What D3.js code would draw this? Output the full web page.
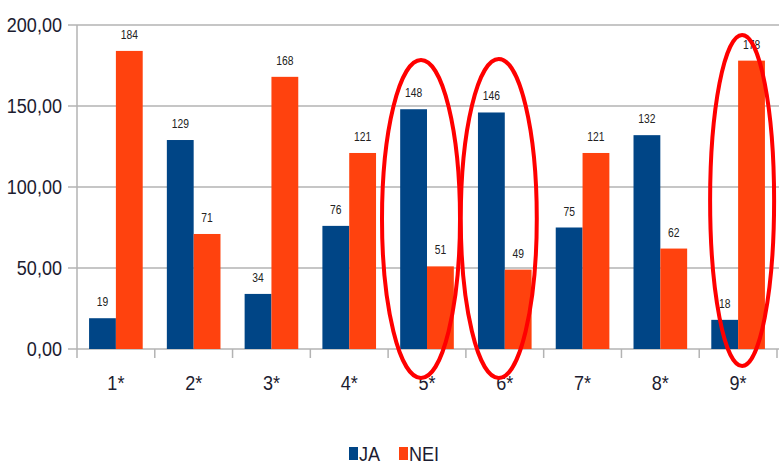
<!DOCTYPE html>
<html>
<head>
<meta charset="utf-8">
<script src="https://cdn.jsdelivr.net/npm/d3@7"></script>
<style>
    body { margin: 0; background: #fff; }
    svg { display: block; }
    text { font-family: "Liberation Sans", Arial, sans-serif; fill: #1c1c30; }
    .tick-y, .tick-x, .legend { font-size: 21px; }
    .label { font-size: 12px; fill: #222; }
</style>
</head>
<body>
<svg id="chart" width="779" height="465"></svg>
<script>
const categories = ["1*", "2*", "3*", "4*", "5*", "6*", "7*", "8*", "9*"];
const seriesNames = ["JA", "NEI"];
const jaValues = [19, 129, 34, 76, 148, 146, 75, 132, 18];
const neiValues = [184, 71, 168, 121, 51, 49, 121, 62, 178];
const yTicks = [0, 50, 100, 150, 200];
const circled = ["5*", "6*", "9*"];

const colors = { JA: "#004586", NEI: "#ff420e" };

const svg = d3.select("#chart"),
    width = 779,
    height = 465,
    margin = { top: 25, right: 2, bottom: 116, left: 77 };

// the source chart uses a condensed face; squeeze horizontally
const squeeze = 0.86;
const narrow = (sel, xf, yf) => sel.attr("transform", (d, i) => `translate(${xf(d, i)},${yf(d, i)}) scale(${squeeze},1)`);

const x = d3.scaleBand()
    .domain(categories)
    .range([margin.left, width - margin.right]);

const inner = d3.scaleBand()
    .domain(seriesNames)
    .range([0, x.bandwidth()])
    .paddingOuter(0.45)
    .paddingInner(0);

const y = d3.scaleLinear()
    .domain([0, 200])
    .range([height - margin.bottom, margin.top]);

const rows = categories.map((c, i) => ({ cat: c, JA: jaValues[i], NEI: neiValues[i] }));

// grid + y ticks
svg.append("g")
    .selectAll("line")
    .data(yTicks)
    .join("line")
    .attr("x1", margin.left - 9)
    .attr("x2", width)
    .attr("y1", d => y(d))
    .attr("y2", d => y(d))
    .attr("stroke", "#b3b3b3")
    .attr("stroke-width", 1.5);

svg.append("g")
    .selectAll("text")
    .data(yTicks)
    .join("text")
    .attr("class", "tick-y")
    .attr("dy", "0.35em")
    .attr("text-anchor", "end")
    .text(d => d3.format(".2f")(d).replace(".", ","))
    .call(narrow, () => margin.left - 15, d => y(d));

// vertical axis line
svg.append("line")
    .attr("x1", margin.left).attr("x2", margin.left)
    .attr("y1", y(200)).attr("y2", y(0) + 9)
    .attr("stroke", "#b3b3b3")
    .attr("stroke-width", 1.5);

// x ticks at band boundaries
svg.append("g")
    .selectAll("line")
    .data(categories)
    .join("line")
    .attr("x1", d => x(d) + x.bandwidth())
    .attr("x2", d => x(d) + x.bandwidth())
    .attr("y1", y(0))
    .attr("y2", y(0) + 9)
    .attr("stroke", "#b3b3b3")
    .attr("stroke-width", 1.5);

// bars
const groups = svg.append("g")
    .selectAll("g")
    .data(rows)
    .join("g")
    .attr("transform", d => `translate(${x(d.cat)},0)`);

groups.selectAll("rect")
    .data(d => seriesNames.map(s => ({ key: s, value: d[s] })))
    .join("rect")
    .attr("x", d => inner(d.key))
    .attr("width", inner.bandwidth())
    .attr("y", d => y(d.value))
    .attr("height", d => y(0) - y(d.value))
    .attr("fill", d => colors[d.key]);

groups.selectAll(".label")
    .data(d => seriesNames.map(s => ({ key: s, value: d[s] })))
    .join("text")
    .attr("class", "label")
    .attr("text-anchor", "middle")
    .text(d => d.value)
    .call(narrow, d => inner(d.key) + inner.bandwidth() / 2, d => y(d.value) - 12);

// x labels
svg.append("g")
    .selectAll("text")
    .data(categories)
    .join("text")
    .attr("class", "tick-x")
    .attr("text-anchor", "middle")
    .text(d => d)
    .call(narrow, d => x(d) + x.bandwidth() / 2, () => y(0) + 41);

// red ellipses
const ellipseSpec = {
    "5*": { dx: -6, top: 60, bottom: 378, rx: 39 },
    "6*": { dx: -6, top: 59, bottom: 378, rx: 38 },
    "9*": { dx: 4, top: 35, bottom: 366, rx: 32 }
};
svg.append("g")
    .selectAll("ellipse")
    .data(circled)
    .join("ellipse")
    .attr("cx", d => x(d) + x.bandwidth() / 2 + ellipseSpec[d].dx)
    .attr("cy", d => (ellipseSpec[d].top + ellipseSpec[d].bottom) / 2)
    .attr("rx", d => ellipseSpec[d].rx)
    .attr("ry", d => (ellipseSpec[d].bottom - ellipseSpec[d].top) / 2)
    .attr("fill", "none")
    .attr("stroke", "#ff0000")
    .attr("stroke-width", 4);

// legend
const legend = svg.append("g").attr("transform", "translate(349,447)");
const legendX = { JA: 0, NEI: 50 };
seriesNames.forEach(s => {
    legend.append("rect")
        .attr("x", legendX[s])
        .attr("y", 0)
        .attr("width", 9)
        .attr("height", 13)
        .attr("fill", colors[s]);
    legend.append("text")
        .attr("class", "legend")
        .attr("transform", `translate(${legendX[s] + 10},14) scale(${squeeze},1)`)
        .text(s);
});
</script>
</body>
</html>
